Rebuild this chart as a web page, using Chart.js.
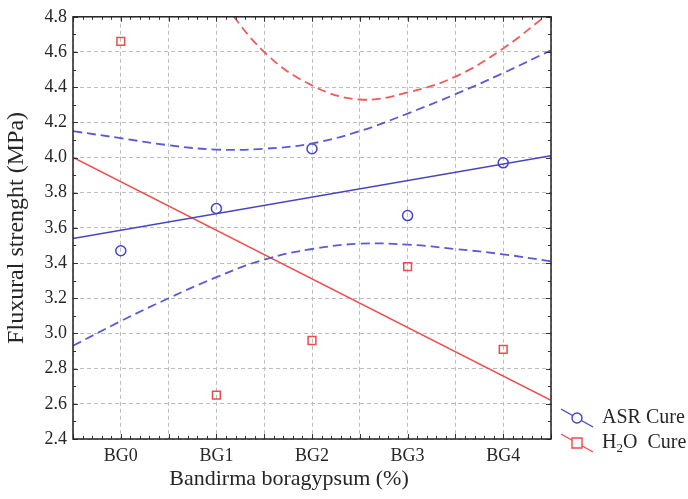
<!DOCTYPE html>
<html>
<head>
<meta charset="utf-8">
<script src="https://cdn.jsdelivr.net/npm/chart.js@4.4.1/dist/chart.umd.min.js"></script>
<style>
  body { margin: 0; background: #fff; }
  #wrap { width: 688px; height: 499px; }
</style>
</head>
<body>
<div id="wrap"><canvas id="chart" width="688" height="499"></canvas></div>
<script>
// categories on the x axis (positions 0..4)
const categories = ['BG0', 'BG1', 'BG2', 'BG3', 'BG4'];
const yTicks = [2.4, 2.6, 2.8, 3.0, 3.2, 3.4, 3.6, 3.8, 4.0, 4.2, 4.4, 4.6, 4.8];

// measured values
const asrValues = [3.47, 3.71, 4.05, 3.67, 3.97];
const h2oValues = [4.66, 2.65, 2.96, 3.38, 2.91];

// fitted lines, read at the plot edges (x = -0.5 and x = 4.5)
const fitX = [-0.5, 4.5];
const asrFit = [3.54, 4.01];
const h2oFit = [4.00, 2.62];

// confidence bands
const bandX = [-0.5, 0, 0.5, 1, 1.5, 2, 2.5, 3, 3.5, 4, 4.5];
const asrUpper = [4.15, 4.11, 4.07, 4.045, 4.05, 4.08, 4.15, 4.25, 4.36, 4.48, 4.61];
const asrLower = [2.93, 3.07, 3.20, 3.32, 3.42, 3.48, 3.51, 3.505, 3.48, 3.45, 3.41];
const h2oUpperX = [1, 1.5, 2, 2.5, 3, 3.5, 4, 4.5];
const h2oUpper = [4.93, 4.60, 4.41, 4.33, 4.37, 4.46, 4.62, 4.83];

const blue = '#4545c2';
const blueDash = '#5a5ad6';
const red = '#f04a4a';
const redDash = '#f05a5a';
const textColor = '#262626';
const serif = '"Liberation Serif", "Times New Roman", serif';

const pts = (xs, ys) => xs.map((x, i) => ({ x: x, y: ys[i] }));

const frame = { left: 73, top: 14, right: 551, bottom: 439 };

// inner minor ticks on all four sides, plus the frame
const minorTicks = {
  id: 'minorTicks',
  afterDatasetsDraw(chart) {
    const { ctx, chartArea: a, scales } = chart;
    ctx.save();
    ctx.strokeStyle = '#333';
    ctx.lineWidth = 1;
    ctx.beginPath();
    for (let i = 0; i <= 50; i++) {
      const v = -0.5 + i * 0.1;
      const px = Math.round(scales.x.getPixelForValue(v)) + 0.5;
      const len = (i % 5 === 0) ? 5 : 3;
      ctx.moveTo(px, a.bottom); ctx.lineTo(px, a.bottom - len);
      ctx.moveTo(px, a.top); ctx.lineTo(px, a.top + len);
    }
    for (let i = 0; i <= 24; i++) {
      const v = 2.4 + i * 0.1;
      const py = Math.round(scales.y.getPixelForValue(v)) + 0.5;
      const len = (i % 2 === 0) ? 5 : 3;
      ctx.moveTo(a.left, py); ctx.lineTo(a.left + len, py);
      ctx.moveTo(a.right, py); ctx.lineTo(a.right - len, py);
    }
    ctx.stroke();
    ctx.strokeStyle = '#222';
    ctx.lineWidth = 1.5;
    ctx.strokeRect(a.left, a.top, a.right - a.left, a.bottom - a.top);
    ctx.restore();
  }
};

// x title and the legend in the lower right corner
const sideLegend = {
  id: 'sideLegend',
  afterDraw(chart) {
    const ctx = chart.ctx;
    ctx.save();
    ctx.fillStyle = textColor;
    ctx.textAlign = 'center';
    ctx.textBaseline = 'middle';
    ctx.font = '22px ' + serif;
    ctx.fillText('Bandirma boragypsum (%)', 289, 479);

    const items = [
      { color: blue, shape: 'circle', y: 418, label: ['ASR Cure'] },
      { color: red, shape: 'rect', y: 443, label: ['H', '2', 'O  Cure'] }
    ];
    ctx.textAlign = 'left';
    items.forEach(it => {
      const x0 = 561, x1 = 593, cx = 577, cy = it.y;
      ctx.strokeStyle = it.color;
      ctx.lineWidth = 1.4;
      ctx.beginPath();
      ctx.moveTo(x0, cy - 9); ctx.lineTo(x1, cy + 9);
      ctx.stroke();
      ctx.fillStyle = '#fff';
      ctx.beginPath();
      if (it.shape === 'circle') ctx.arc(cx, cy, 5, 0, Math.PI * 2);
      else ctx.rect(cx - 5, cy - 5, 10, 10);
      ctx.fill(); ctx.stroke();
      ctx.fillStyle = textColor;
      let tx = 602;
      ctx.font = '20px ' + serif;
      ctx.fillText(it.label[0], tx, cy);
      if (it.label.length > 1) {
        tx += ctx.measureText(it.label[0]).width;
        ctx.font = '13px ' + serif;
        ctx.fillText(it.label[1], tx, cy + 6);
        tx += ctx.measureText(it.label[1]).width;
        ctx.font = '20px ' + serif;
        ctx.fillText(it.label[2], tx, cy);
      }
    });
    ctx.restore();
  }
};

const dashed = { borderWidth: 1.8, borderDash: [9, 5], pointRadius: 0, tension: 0.4, showLine: true };

new Chart(document.getElementById('chart'), {
  type: 'scatter',
  data: {
    datasets: [
      Object.assign({ label: 'ASR upper', data: pts(bandX, asrUpper), borderColor: blueDash }, dashed),
      Object.assign({ label: 'ASR lower', data: pts(bandX, asrLower), borderColor: blueDash }, dashed),
      Object.assign({ label: 'H2O upper', data: pts(h2oUpperX, h2oUpper), borderColor: redDash }, dashed),
      { label: 'ASR fit', data: pts(fitX, asrFit), showLine: true, borderColor: blue,
        borderWidth: 1.5, pointRadius: 0 },
      { label: 'H2O fit', data: pts(fitX, h2oFit), showLine: true, borderColor: red,
        borderWidth: 1.5, pointRadius: 0 },
      { label: 'ASR Cure', data: pts([0, 1, 2, 3, 4], asrValues), pointStyle: 'circle',
        pointRadius: 5, borderColor: blue, backgroundColor: 'rgba(0,0,0,0)', borderWidth: 1.5 },
      { label: 'H2O Cure', data: pts([0, 1, 2, 3, 4], h2oValues), pointStyle: 'rect',
        pointRadius: 5.5, borderColor: red, backgroundColor: 'rgba(0,0,0,0)', borderWidth: 1.5 }
    ]
  },
  options: {
    responsive: false,
    animation: false,
    layout: { padding: { top: frame.top, right: 688 - frame.right, left: 0, bottom: 0 } },
    plugins: { legend: { display: false }, tooltip: { enabled: false } },
    scales: {
      x: {
        type: 'linear', min: -0.5, max: 4.5,
        afterFit: s => { s.height = 499 - frame.bottom; },
        afterBuildTicks: s => { s.ticks = [-0.5, 0, 0.5, 1, 1.5, 2, 2.5, 3, 3.5, 4, 4.5].map(v => ({ value: v })); },
        border: { display: false, dash: [4, 3] },
        grid: { color: '#bdbdbd', lineWidth: 1, drawTicks: false },
        ticks: {
          padding: 6, color: textColor, maxRotation: 0, autoSkip: false,
          font: { family: serif, size: 18 },
          callback: v => Number.isInteger(v) ? categories[v] : ''
        }
      },
      y: {
        min: 2.4, max: 4.8,
        afterFit: s => { s.width = frame.left; },
        afterBuildTicks: s => { s.ticks = yTicks.map(v => ({ value: v })); },
        border: { display: false, dash: [4, 3] },
        grid: { color: '#bdbdbd', lineWidth: 1, drawTicks: false },
        ticks: {
          padding: 6, color: textColor,
          font: { family: serif, size: 18 },
          callback: v => v.toFixed(1)
        },
        title: { display: true, text: 'Fluxural strenght (MPa)', color: textColor,
          font: { family: serif, size: 24 }, padding: { top: 2, bottom: 0 } }
      }
    }
  },
  plugins: [minorTicks, sideLegend]
});
</script>
</body>
</html>
